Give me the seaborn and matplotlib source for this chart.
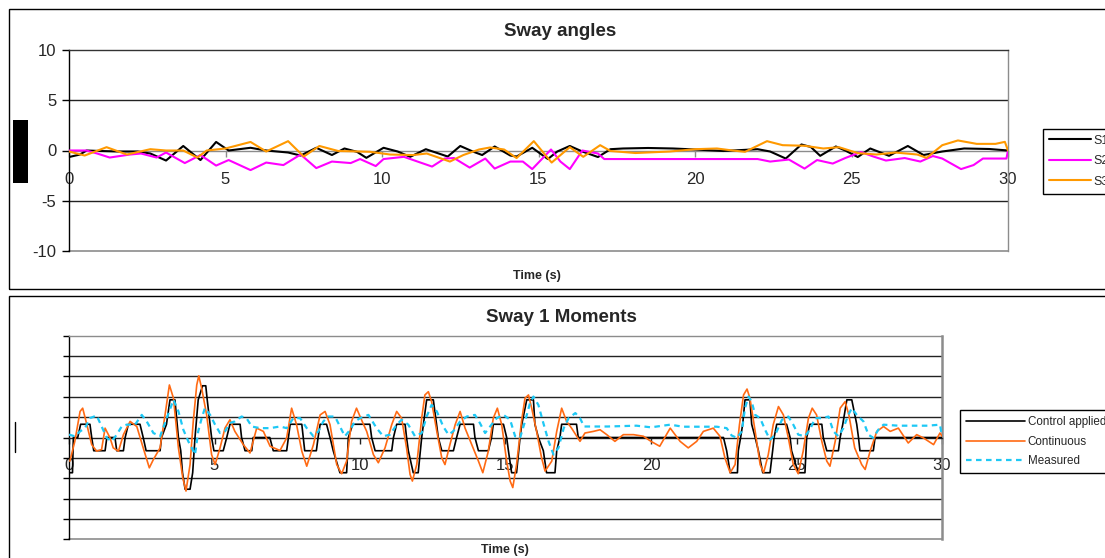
import numpy as np
import matplotlib
matplotlib.use("Agg")
import matplotlib.pyplot as plt
from matplotlib.patches import Rectangle
from matplotlib.lines import Line2D
import seaborn as sns

# ---------------- data: sway angles (deg) ----------------
s1_t = [0, 0.35, 0.56, 1.0, 1.6, 2.2, 2.6, 3.1, 3.65, 4.2, 4.7, 5.1, 5.8, 6.3, 7.0, 7.4,
        7.9, 8.4, 8.8, 9.2, 9.5, 10.05, 10.5, 10.9, 11.4, 12.1, 12.5, 12.9, 13.2, 13.6,
        14.1, 14.3, 14.8, 15.3, 15.6, 16.0, 16.4, 16.9, 17.3, 17.7, 18.5, 19.3, 20.0,
        20.9, 22.0, 22.4, 22.9, 23.4, 23.7, 24.0, 24.5, 24.8, 25.2, 25.6, 26.2, 26.8,
        27.3, 27.9, 28.6, 29.4, 30.0]
s1_v = [-0.65, -0.4, 0.0, -0.05, -0.1, -0.1, -0.3, -1.0, 0.45, -0.95, 0.85, 0.0, 0.27,
        0.0, -0.2, -0.5, 0.27, -0.45, 0.2, -0.13, -0.73, 0.27, -0.1, -0.63, 0.13, -0.6,
        0.45, -0.1, -0.45, 0.4, -0.5, -0.6, 0.27, -0.85, -0.1, 0.45, -0.1, -0.65, 0.13,
        0.2, 0.25, 0.2, 0.1, -0.05, 0.13, -0.1, -0.8, 0.6, 0.35, -0.53, 0.4, 0.0, -0.65,
        0.2, -0.53, 0.45, -0.45, -0.1, 0.2, 0.15, 0.0]

s2_t = [0, 0.55, 0.9, 1.3, 1.95, 2.3, 2.8, 3.1, 3.7, 4.2, 4.7, 5.1, 5.8, 6.3, 6.85, 7.4,
        7.9, 8.4, 9.0, 9.3, 9.8, 10.05, 10.7, 11.6, 12.0, 12.3, 12.8, 13.3, 13.6, 14.1,
        14.5, 14.8, 15.4, 15.7, 16.0, 16.4, 16.9, 17.1, 18.0, 19.0, 20.0, 21.0, 22.0,
        22.4, 23.0, 23.5, 23.9, 24.4, 24.8, 25.3, 25.7, 26.1, 26.7, 27.2, 27.6, 27.9,
        28.5, 28.9, 29.2, 29.95, 30.0]
s2_v = [0.0, 0.0, -0.3, -0.7, -0.4, -0.3, -0.7, -0.2, -1.25, -0.45, -1.5, -0.95, -1.95,
        -1.2, -1.45, -0.4, -1.75, -1.1, -1.25, -0.85, -1.55, -0.85, -0.63, -1.6, -0.8,
        -0.75, -1.7, -0.8, -1.8, -1.1, -1.1, -1.85, 0.1, -1.1, -1.85, 0.0, -0.3, -0.85,
        -0.85, -0.85, -0.85, -0.85, -0.85, -1.1, -0.9, -1.8, -0.95, -1.3, -0.75, -0.15,
        -0.6, -1.0, -0.75, -1.1, -0.55, -0.8, -1.85, -1.45, -0.8, -0.8, 0.0]

s3_t = [0, 0.5, 1.2, 1.85, 2.6, 3.1, 3.65, 4.1, 4.4, 5.0, 5.8, 6.3, 7.0, 7.5, 8.0, 8.6,
        9.3, 9.62, 10.26, 11.0, 11.43, 12.17, 12.6, 13.1, 13.45, 13.9, 14.3, 14.85,
        15.42, 16.0, 16.43, 16.97, 17.3, 18.1, 19.2, 20.0, 20.7, 21.2, 21.6, 22.3, 22.8,
        23.5, 24.1, 24.6, 25.2, 25.8, 26.4, 27.1, 27.4, 27.9, 28.4, 29.0, 29.6, 29.9, 30.0]
s3_v = [-0.1, -0.5, 0.33, -0.4, 0.13, 0.0, 0.0, -0.7, 0.0, 0.2, 0.85, -0.1, 0.93, -0.6,
        0.45, -0.05, -0.1, -0.13, -0.4, -0.45, -0.3, -1.1, -0.45, 0.1, 0.3, 0.1, -0.75,
        0.93, -1.2, 0.33, -0.63, 0.53, -0.05, -0.25, -0.1, 0.13, 0.2, 0.0, -0.13, 0.93,
        0.53, 0.47, 0.2, 0.33, -0.26, -0.4, -0.2, -0.4, -0.73, 0.53, 1.0, 0.66, 0.66,
        0.86, 0.0]

angle_labels = ["S1", "S2", "S3"]

# ---------------- data: sway 1 moments ----------------
ctrl_t = [0.0, 0.12, 0.15, 0.3, 0.4, 0.72, 0.78, 0.85, 1.24, 1.3, 1.58, 1.64, 1.87, 1.93,
          2.04, 2.44, 2.55, 2.65, 3.13, 3.18, 3.35, 3.47, 3.64, 3.76, 3.84, 3.9, 3.99,
          4.16, 4.25, 4.33, 4.44, 4.59, 4.7, 4.75, 4.9, 4.98, 5.3, 5.42, 5.53, 5.88, 5.93,
          6.05, 6.28, 6.33, 6.9, 7.02, 7.48, 7.54, 7.6, 8.0, 8.05, 8.1, 8.5, 8.56, 8.63,
          8.85, 8.97, 9.08, 9.31, 9.54, 9.6, 9.75, 10.34, 10.4, 10.52, 11.09, 11.15,
          11.26, 11.55, 11.6, 11.66, 11.83, 12.0, 12.12, 12.29, 12.52, 12.69, 12.81,
          13.21, 13.32, 13.44, 13.9, 13.95, 14.07, 14.41, 14.52, 14.58, 14.93, 15.04,
          15.1, 15.21, 15.38, 15.5, 15.56, 15.73, 15.96, 16.01, 16.13, 16.3, 16.41, 16.7,
          16.76, 16.87, 16.93, 17.44, 17.5, 22.49, 22.6, 22.72, 22.97, 23.0, 23.08,
          23.15, 23.23, 23.4, 23.46, 23.58, 23.69, 23.84, 24.09, 24.18, 24.23, 24.32,
          24.66, 24.78, 24.83, 25.06, 25.29, 25.35, 25.46, 25.87, 25.92, 26.04, 26.44,
          26.5, 26.59, 26.73, 26.9, 27.07, 27.13, 27.18, 27.64, 27.7, 30.0]
ctrl_v = [-1.73, -1.73, 0, 0, 0.65, 0.65, 0, -0.65, -0.65, 0, 0, -0.65, -0.65, 0,
          0.65, 0.65, 0, -0.65, -0.65, 0, 0.65, 1.85, 1.85, 0, -0.65, -1.73, -2.54,
          -2.54, -1.73, 0, 1.85, 2.54, 2.54, 1.85, 0, -0.65, -0.65, 0, 0.65, 0.65, 0,
          -0.65, -0.65, 0, 0, -0.65, -0.65, 0, 0.65, 0.65, 0, -0.65, -0.65, 0, 0.65,
          0.65, 0, -0.65, -1.73, -1.73, 0, 0.65, 0.65, 0, -0.65, -0.65, 0,
          0.65, 0.65, 0, -0.65, -1.73, -1.73, 0, 1.85, 1.85, 0, -0.65,
          -0.65, 0, 0.65, 0.65, 0, -0.65, -0.65, 0, 0.65, 0.65, 0,
          -0.65, -1.73, -1.73, 0, 0.65, 1.85, 1.85, 0.65, 0, -0.65, -1.73, -1.73,
          -0.65, 0, 0.65, 0.65, 0, 0, -0.65, -1.73, -1.73, -0.65, 0,
          0.65, 1.85, 1.85, 0.65, 0, -0.65, -1.73, -1.73, -0.65, 0, 0.65,
          0.65, 0, -0.65, -1.73, -1.73, 0, 0.65, 0.65, 0, -0.65, -0.65,
          0, 0.65, 1.85, 1.85, 0.65, 0, -0.65, -0.65, 0, 0]

cont_t = [0.03, 0.2, 0.38, 0.47, 0.6, 0.78, 0.95, 1.12, 1.24, 1.41, 1.52, 1.7, 1.87, 2.1,
          2.33, 2.55, 2.76, 2.9, 3.13, 3.3, 3.45, 3.59, 3.76, 3.91, 4.02, 4.16, 4.27,
          4.39, 4.46, 4.56, 4.73, 4.9, 5.02, 5.19, 5.36, 5.53, 5.7, 5.99, 6.22, 6.45,
          6.68, 6.91, 7.25, 7.48, 7.65, 7.82, 8.0, 8.17, 8.4, 8.63, 8.8, 8.97, 9.2, 9.37,
          9.54, 9.71, 9.88, 10.1, 10.23, 10.46, 10.63, 10.86, 11.09, 11.26, 11.43, 11.6,
          11.72, 11.8, 11.95, 12.12, 12.23, 12.35, 12.46, 12.64, 12.81, 12.92, 13.09,
          13.27, 13.44, 13.61, 13.84, 14.07, 14.22, 14.41, 14.58, 14.72, 14.87, 15.04,
          15.16, 15.25, 15.38, 15.55, 15.67, 15.79, 15.9, 16.07, 16.24, 16.36, 16.59,
          16.76, 16.93, 17.1, 17.27, 17.45, 17.56, 17.73, 18.02, 18.25, 18.48, 18.76,
          19.05, 19.4, 19.74, 20.0, 20.3, 20.66, 21.0, 21.28, 21.57, 21.8, 22.14, 22.37,
          22.54, 22.72, 22.89, 23.04, 23.18, 23.3, 23.4, 23.58, 23.75, 23.87, 24.03,
          24.2, 24.38, 24.55, 24.72, 24.89, 25.06, 25.23, 25.41, 25.54, 25.69, 25.87,
          26.04, 26.15, 26.33, 26.5, 26.67, 26.8, 27.0, 27.24, 27.36, 27.53, 27.76,
          27.99, 28.22, 28.5, 28.84, 29.13, 29.36, 29.71, 29.93, 30.0]
cont_v = [-1.16, -0.19, 1.28, 1.44, 0.71, -0.35, -0.67, -0.59, 0.46, -0.02, -0.51, -0.67,
          0.14, 0.79, 0.54, -0.51, -1.49, -1.08, -0.51, 1.11, 2.58, 1.93, -0.51, -1.98,
          -2.63, -1.33, 0.79, 2.58, 3.03, 2.41, 1.11, -0.84, -1.33, -0.51, 0.46, 0.87,
          0.3, -0.35, -0.76, 0.46, 0.3, -0.43, -0.64, -0.02, 1.44, 0.63, -0.67, -1.41,
          -0.35, 1.11, 1.28, 0.63, -1.33, -1.78, -1.16, 0.79, 1.44, 0.71, 0.3, -0.84,
          -1.24, -0.51, 0.63, 1.28, 0.95, -0.51, -1.81, -2.14, -1.33, 0.95, 2.09, 2.25,
          1.76, 0.3, -1.0, -1.33, -0.35, 0.63, 1.28, 0.46, -0.35, -1.16, -1.73, -0.67,
          0.95, 1.44, 0.63, -1.16, -2.14, -2.46, -1.33, 0.79, 1.93, 2.09, 1.44, 0.3,
          -1.0, -1.65, -1.16, 0.3, 1.44, 0.79, 0.46, 0.06, -0.19, 0.22, 0.3, 0.38, 0.14,
          -0.19, 0.14, 0.14, 0.06, -0.19, -0.43, 0.46, -0.19, -0.51, -0.19, 0.3, 0.46,
          0.06, -1.0, -1.73, -1.33, 0.63, 2.09, 2.38, 1.93, 0.3, -1.33, -1.73, -0.84,
          0.63, 1.52, 1.11, -0.02, -1.33, -1.78, -0.67, 0.95, 1.44, 1.11, -0.19, -1.16,
          -1.41, -0.19, 1.44, 1.76, 1.11, -0.51, -1.33, -1.57, -0.67, 0.3, 0.54, 0.3,
          0.46, -0.27, 0.14, -0.02, -0.35, 0.22, 0.06]

meas_t = [0.0, 0.2, 0.38, 0.55, 0.72, 0.95, 1.12, 1.3, 1.47, 1.64, 1.81, 1.98, 2.27, 2.5,
          2.67, 2.9, 3.13, 3.36, 3.59, 3.76, 3.93, 4.1, 4.22, 4.33, 4.44, 4.56, 4.67,
          4.85, 5.02, 5.19, 5.36, 5.53, 5.7, 5.93, 6.1, 6.28, 6.56, 6.91, 7.25, 7.48,
          7.71, 7.94, 8.17, 8.4, 8.57, 8.74, 8.91, 9.14, 9.31, 9.48, 9.66, 9.83, 10.0,
          10.29, 10.57, 10.8, 11.03, 11.26, 11.43, 11.66, 11.89, 12.12, 12.29, 12.46,
          12.64, 12.86, 13.04, 13.2, 13.44, 13.67, 13.95, 14.12, 14.3, 14.47, 14.7,
          14.93, 15.16, 15.33, 15.5, 15.67, 15.84, 15.96, 16.13, 16.3, 16.48, 16.65,
          16.82, 17.0, 17.17, 17.4, 17.56, 17.7, 18.5, 19.5, 20.0, 20.66, 21.1, 21.7,
          22.26, 22.6, 22.77, 22.95, 23.12, 23.23, 23.35, 23.46, 23.58, 23.75, 23.92,
          24.09, 24.27, 24.5, 24.72, 24.89, 25.06, 25.29, 25.46, 25.64, 25.87, 26.1,
          26.27, 26.44, 26.61, 26.78, 26.9, 27.07, 27.3, 27.47, 27.64, 27.81, 27.99,
          28.5, 29.0, 29.5, 29.93, 30.0]
meas_v = [0.14, 0.06, 0.3, 0.46, 0.95, 1.08, 0.54, -0.02, -0.19, 0.14, 0.54, 0.63, 0.63,
          1.11, 0.79, 0.22, 0.06, 0.95, 1.85, 1.28, 0.38, -0.19, -0.51, -0.84, 0.3, 0.95,
          1.44, 1.11, 0.63, 0.22, 0.3, 0.71, 0.79, 1.03, 0.95, 0.54, 0.46, 0.46, 0.54,
          0.46, 0.95, 0.95, 0.46, 0.06, 0.3, 0.79, 1.03, 1.03, 0.54, 0.06, 0.38, 0.79,
          0.95, 1.11, 0.46, 0.06, 0.14, 0.63, 0.87, 0.63, 0.06, 0.22, 1.03, 1.6, 1.28,
          0.54, 0.14, 0.3, 0.79, 1.03, 1.11, 0.71, 0.22, 0.54, 0.95, 1.11, 0.87, 0.06,
          -0.02, 0.79, 1.68, 2.01, 1.6, 0.71, -0.19, -0.84, -0.51, 0.46, 0.95, 1.2, 0.95,
          0.54, 0.54, 0.58, 0.5, 0.63, 0.53, 0.53, 0.53, 0.46, 0.1, -0.02, 0.3, 1.44,
          2.01, 1.76, 1.11, 0.95, 0.38, -0.11, 0.14, 0.87, 1.03, 0.63, 0.14, 0.06, 0.38,
          0.95, 0.95, 1.03, 0.3, 0.06, 0.46, 1.11, 1.44, 1.11, 0.79, 0.14, -0.02, 0.38,
          0.63, 0.58, 0.58, 0.58, 0.63, 0.06]

moment_labels = ["Control applied", "Continuous", "Measured"]
x_ticks = [0, 5, 10, 15, 20, 25, 30]

# ---------------- figure setup ----------------
sns.set_style("white")
plt.rcParams["font.family"] = ["Liberation Sans", "DejaVu Sans"]
plt.rcParams["axes.unicode_minus"] = False

W, H = 1105, 558
fig = plt.figure(figsize=(W / 100, H / 100), dpi=100)


def px_box(x0, y0, x1, y1):
    return [x0 / W, 1 - y1 / H, (x1 - x0) / W, (y1 - y0) / H]


def fx(x):
    return x / W


def fy(y):
    return 1 - y / H


# outer chart frames
fig.add_artist(Rectangle((fx(9), fy(288.7)), fx(1200 - 9), (288.7 - 9.3) / H,
                         transform=fig.transFigure, fill=False, ec="black", lw=1))
fig.add_artist(Rectangle((fx(9), fy(700)), fx(1200 - 9), (700 - 295.5) / H,
                         transform=fig.transFigure, fill=False, ec="black", lw=1))
# remnants of the rotated axis titles
fig.add_artist(Rectangle((fx(13), fy(183)), fx(15), 63 / H,
                         transform=fig.transFigure, color="black", lw=0))
fig.add_artist(Line2D([fx(15), fx(15)], [fy(452), fy(421.5)],
                      transform=fig.transFigure, color="black", lw=1))

GRID = "#222222"
BORDER = "#8c8c8c"

# ---------------- top chart: sway angles ----------------
ax1 = fig.add_axes(px_box(69, 50, 1008, 251))
ax1.set_xlim(0, 30)
ax1.set_ylim(-10, 10)
for yv in (5, -5):
    ax1.axhline(yv, color=GRID, lw=1, zorder=0.5)
ax1.axhline(-10, color=BORDER, lw=1.2, zorder=0.5, clip_on=False)

colors_top = ["black", "#ff00ff", "#ff9900"]
for t, v, c, lab in zip([s1_t, s2_t, s3_t], [s1_v, s2_v, s3_v], colors_top, angle_labels):
    sns.lineplot(x=t, y=v, ax=ax1, color=c, linewidth=1.5, label=lab,
                 sort=False, estimator=None)

ax1.set_xticks(x_ticks)
ax1.set_yticks([-10, -5, 0, 5, 10])
ax1.spines["bottom"].set_position(("data", 0))
ax1.spines["bottom"].set_color(BORDER)
ax1.spines["top"].set_color("#333333")
ax1.spines["right"].set_color(BORDER)
ax1.spines["left"].set_color("black")
for s in ax1.spines.values():
    s.set_linewidth(1)
    s.set_zorder(0.6)
ax1.tick_params(axis="y", direction="out", length=5, width=1, color="black",
                labelsize=12, pad=4, left=True)
ax1.tick_params(axis="x", direction="out", length=4, width=1, color=BORDER,
                labelsize=12, pad=11.5, bottom=True)
ax1.set_xlabel("")
ax1.set_ylabel("")

leg1 = ax1.legend(loc="upper left", bbox_to_anchor=(fx(1043), fy(128.5)),
                  bbox_transform=fig.transFigure, borderaxespad=0, fontsize=9,
                  handlelength=3.3, handletextpad=0.25, borderpad=0.5,
                  labelspacing=0.68, frameon=True, fancybox=False, framealpha=1)
leg1.get_frame().set_edgecolor("black")
leg1.get_frame().set_linewidth(1)
for ln in leg1.get_lines():
    ln.set_linewidth(1.5)

fig.text(fx(560), fy(31), "Sway angles", ha="center", va="center",
         fontsize=13.5, fontweight="bold")
fig.text(fx(537), fy(276), "Time (s)", ha="center", va="center",
         fontsize=9, fontweight="bold")

# ---------------- bottom chart: sway 1 moments ----------------
ax2 = fig.add_axes(px_box(69, 335.7, 942, 539.3))
ax2.set_xlim(0, 30)
ax2.set_ylim(-5, 5)
for yv in (4, 3, 2, 1, -1, -2, -3, -4):
    ax2.axhline(yv, color=GRID, lw=1, zorder=0.5)
ax2.axhline(-5, color=BORDER, lw=1.2, zorder=0.5, clip_on=False)

sns.lineplot(x=ctrl_t, y=ctrl_v, ax=ax2, color="black", linewidth=1.2,
             label=moment_labels[0], sort=False, estimator=None)
sns.lineplot(x=cont_t, y=cont_v, ax=ax2, color="#ff6a13", linewidth=1.2,
             label=moment_labels[1], sort=False, estimator=None)
sns.lineplot(x=meas_t, y=meas_v, ax=ax2, color="#1ec8f5", linewidth=1.6,
             label=moment_labels[2], sort=False, estimator=None)
ax2.lines[-1].set_linestyle((0, (2.5, 2.0)))

ax2.set_xticks(x_ticks)
ax2.set_yticks(list(range(-5, 6)))
ax2.set_yticklabels([])
ax2.spines["bottom"].set_position(("data", 0))
ax2.spines["bottom"].set_color(GRID)
ax2.spines["top"].set_color(BORDER)
ax2.spines["right"].set_color(BORDER)
ax2.spines["left"].set_color("black")
for s in ax2.spines.values():
    s.set_linewidth(1)
    s.set_zorder(0.6)
ax2.spines["right"].set_linewidth(1.8)
ax2.tick_params(axis="y", direction="out", length=4, width=1, color="black", left=True)
ax2.tick_params(axis="x", direction="out", length=4, width=1, color=GRID,
                labelsize=12, pad=11, bottom=True)
ax2.set_xlabel("")
ax2.set_ylabel("")

leg2 = ax2.legend(loc="upper left", bbox_to_anchor=(fx(960), fy(410)),
                  bbox_transform=fig.transFigure, borderaxespad=0, fontsize=8.4,
                  handlelength=5.0, handletextpad=0.26, borderpad=0.55,
                  labelspacing=0.62, frameon=True, fancybox=False, framealpha=1)
leg2.get_frame().set_edgecolor("black")
leg2.get_frame().set_linewidth(1)
leg2.get_lines()[2].set_linestyle((0, (2.5, 2.0)))

fig.text(fx(561), fy(317), "Sway 1 Moments", ha="center", va="center",
         fontsize=13.5, fontweight="bold")
fig.text(fx(505), fy(550), "Time (s)", ha="center", va="center",
         fontsize=9, fontweight="bold")

fig.savefig("out.png", dpi=100)
